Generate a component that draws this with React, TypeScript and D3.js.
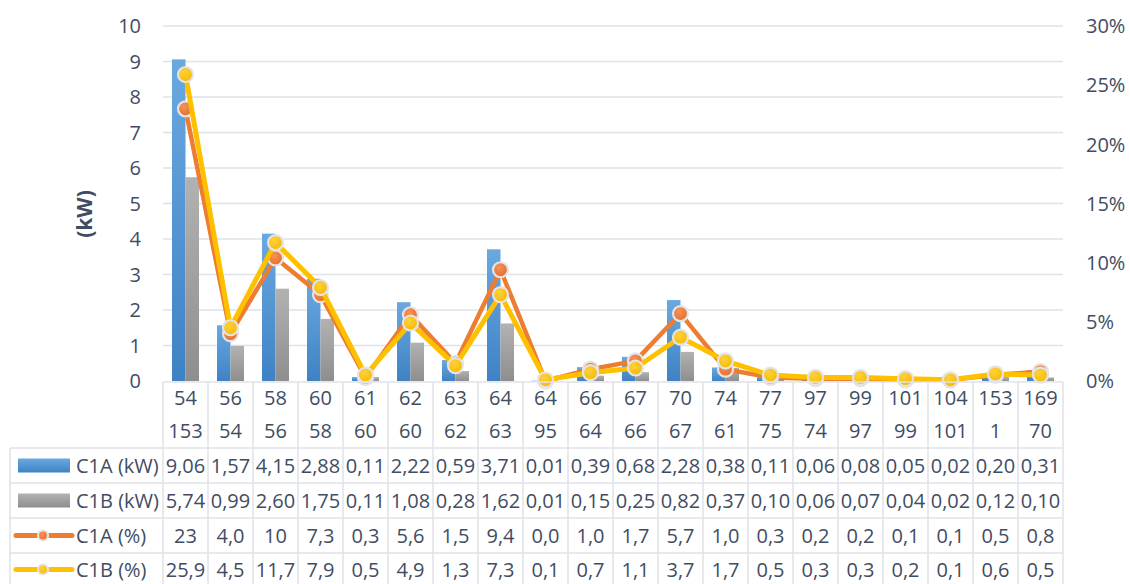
import React from "react";
import * as d3 from "d3";

const catTop = ["54","56","58","60","61","62","63","64","64","66","67","70","74","77","97","99","101","104","153","169"];
const catBottom = ["153","54","56","58","60","60","62","63","95","64","66","67","61","75","74","97","99","101","1","70"];
const c1aKw = [9.06,1.57,4.15,2.88,0.11,2.22,0.59,3.71,0.01,0.39,0.68,2.28,0.38,0.11,0.06,0.08,0.05,0.02,0.20,0.31];
const c1bKw = [5.74,0.99,2.60,1.75,0.11,1.08,0.28,1.62,0.01,0.15,0.25,0.82,0.37,0.10,0.06,0.07,0.04,0.02,0.12,0.10];
const c1aPct = [23,4.0,10.4,7.3,0.3,5.6,1.5,9.4,0.0,1.0,1.7,5.7,1.0,0.3,0.2,0.2,0.1,0.1,0.5,0.8];
const c1aPctLabels = ["23","4,0","10","7,3","0,3","5,6","1,5","9,4","0,0","1,0","1,7","5,7","1,0","0,3","0,2","0,2","0,1","0,1","0,5","0,8"];
const c1bPct = [25.9,4.5,11.7,7.9,0.5,4.9,1.3,7.3,0.1,0.7,1.1,3.7,1.7,0.5,0.3,0.3,0.2,0.1,0.6,0.5];
const leftTicks = [0,1,2,3,4,5,6,7,8,9,10];
const rightTicks = [0,5,10,15,20,25,30];
const seriesNames = ["C1A (kW)","C1B (kW)","C1A (%)","C1B (%)"];

const W = 1130, H = 584;
const FONT = "'Open Sans', sans-serif";
const TXT = "#3f4d63";
const GRID = "#dfe2e7";
const FS = 20;

export default function App() {
  const idx = catTop.map((_, i) => i);
  const x = d3.scaleBand<number>().domain(idx).range([163, 1063]).padding(0);
  const bw = x.bandwidth();
  const sub = d3.scaleBand<string>().domain(["a","b"]).range([bw*0.2, bw*0.8]).padding(0);
  const yL = d3.scaleLinear().domain([0,10]).range([381, 26]);
  const yR = d3.scaleLinear().domain([0,30]).range([381, 26]);
  const cx = (i:number) => (x(i) as number) + bw/2;
  const lineA = d3.line<number>().x((_, i) => cx(i)).y(d => yR(d));

  const rowTops = [382, 448, 483, 518, 553, 588];
  const tableVals = [
    c1aKw.map(v => d3.format(".2f")(v).replace(".", ",")),
    c1bKw.map(v => d3.format(".2f")(v).replace(".", ",")),
    c1aPctLabels,
    c1bPct.map(v => d3.format(".1f")(v).replace(".", ",")),
  ];

  const marker = (cxv:number, cyv:number, fill:string, r=7.5) => (
    <circle cx={cxv} cy={cyv} r={r} fill={fill} stroke="#e4e4e4" strokeWidth={2.2} />
  );

  return (
    <svg width={W} height={H} style={{position:"absolute", left:0, top:0, background:"#fff"}} fontFamily={FONT}>
      <defs>
        <linearGradient id="gBlue" x1="0" y1="0" x2="0" y2="1">
          <stop offset="0" stopColor="#6aa8e0" />
          <stop offset="1" stopColor="#3f82c4" />
        </linearGradient>
        <linearGradient id="gGray" x1="0" y1="0" x2="0" y2="1">
          <stop offset="0" stopColor="#b2b2b2" />
          <stop offset="1" stopColor="#8e8e8e" />
        </linearGradient>
        <radialGradient id="gOr" cx="0.4" cy="0.35" r="0.7">
          <stop offset="0" stopColor="#f5925a" />
          <stop offset="1" stopColor="#e46d24" />
        </radialGradient>
        <radialGradient id="gYe" cx="0.4" cy="0.35" r="0.7">
          <stop offset="0" stopColor="#ffd23a" />
          <stop offset="1" stopColor="#f5b800" />
        </radialGradient>
      </defs>

      {/* gridlines */}
      {leftTicks.filter(t => t > 0).map(t => (
        <line key={t} x1={163} x2={1063} y1={yL(t)} y2={yL(t)} stroke={GRID} strokeWidth={1.5} />
      ))}

      {/* left axis labels */}
      {leftTicks.map(t => (
        <text key={t} x={141} y={yL(t)} dy="0.36em" textAnchor="end" fontSize={FS} fill={TXT}>{t}</text>
      ))}
      {/* right axis labels */}
      {rightTicks.map(t => (
        <text key={t} x={1086} y={yR(t)} dy="0.36em" textAnchor="start" fontSize={FS} fill={TXT}>{t + "%"}</text>
      ))}
      <text transform={`translate(92,214) rotate(-90)`} textAnchor="middle" fontSize={21} fontWeight="bold" fill={TXT}>(kW)</text>

      {/* bars */}
      {idx.map(i => (
        <g key={i}>
          <rect x={(x(i) as number) + (sub("a") as number)} y={yL(c1aKw[i])} width={sub.bandwidth()} height={yL(0) - yL(c1aKw[i])} fill="url(#gBlue)" />
          <rect x={(x(i) as number) + (sub("b") as number)} y={yL(c1bKw[i])} width={sub.bandwidth()} height={yL(0) - yL(c1bKw[i])} fill="url(#gGray)" />
        </g>
      ))}

      {/* lines */}
      <path d={lineA(c1aPct) || ""} fill="none" stroke="#ED7D31" strokeWidth={4.5} strokeLinejoin="round" />
      {c1aPct.map((v, i) => <g key={i}>{marker(cx(i), yR(v), "url(#gOr)")}</g>)}
      <path d={lineA(c1bPct) || ""} fill="none" stroke="#FFC000" strokeWidth={5} strokeLinejoin="round" />
      {c1bPct.map((v, i) => <g key={i}>{marker(cx(i), yR(v), "url(#gYe)")}</g>)}

      {/* table grid */}
      <g stroke={GRID} strokeWidth={1.5}>
        <line x1={163} x2={1063} y1={rowTops[0]} y2={rowTops[0]} />
        {rowTops.slice(1).map((y, k) => <line key={k} x1={10} x2={1063} y1={y} y2={y} />)}
        {d3.range(0, 21).map(k => {
          const xx = k < 20 ? (x(k) as number) : 1063;
          return <line key={k} x1={xx} x2={xx} y1={rowTops[0]} y2={H} />;
        })}
        <line x1={10} x2={10} y1={rowTops[1]} y2={H} />
      </g>

      {/* category header */}
      {idx.map(i => (
        <g key={i} fontSize={FS} fill={TXT} textAnchor="middle">
          <text x={cx(i)} y={398} dy="0.36em">{catTop[i]}</text>
          <text x={cx(i)} y={431} dy="0.36em">{catBottom[i]}</text>
        </g>
      ))}

      {/* table rows */}
      {tableVals.map((row, r) => {
        const cy = (rowTops[r+1] + rowTops[r+2]) / 2 + (r === 3 ? -1 : 0);
        return (
          <g key={r}>
            {row.map((s, i) => (
              <text key={i} x={cx(i)} y={cy} dy="0.36em" textAnchor="middle" fontSize={FS} fill={TXT}>{s}</text>
            ))}
            <text x={76} y={cy} dy="0.36em" fontSize={FS} fill={TXT}>{seriesNames[r]}</text>
            {r === 0 && <rect x={18} y={cy - 7} width={52} height={14} fill="url(#gBlue)" />}
            {r === 1 && <rect x={18} y={cy - 7} width={52} height={14} fill="url(#gGray)" />}
            {r === 2 && <g><line x1={16} x2={72} y1={cy} y2={cy} stroke="#ED7D31" strokeWidth={5} strokeLinecap="round" />{marker(43, cy, "url(#gOr)", 5)}</g>}
            {r === 3 && <g><line x1={16} x2={72} y1={cy} y2={cy} stroke="#FFC000" strokeWidth={5} strokeLinecap="round" />{marker(43, cy, "url(#gYe)", 5)}</g>}
          </g>
        );
      })}
    </svg>
  );
}
